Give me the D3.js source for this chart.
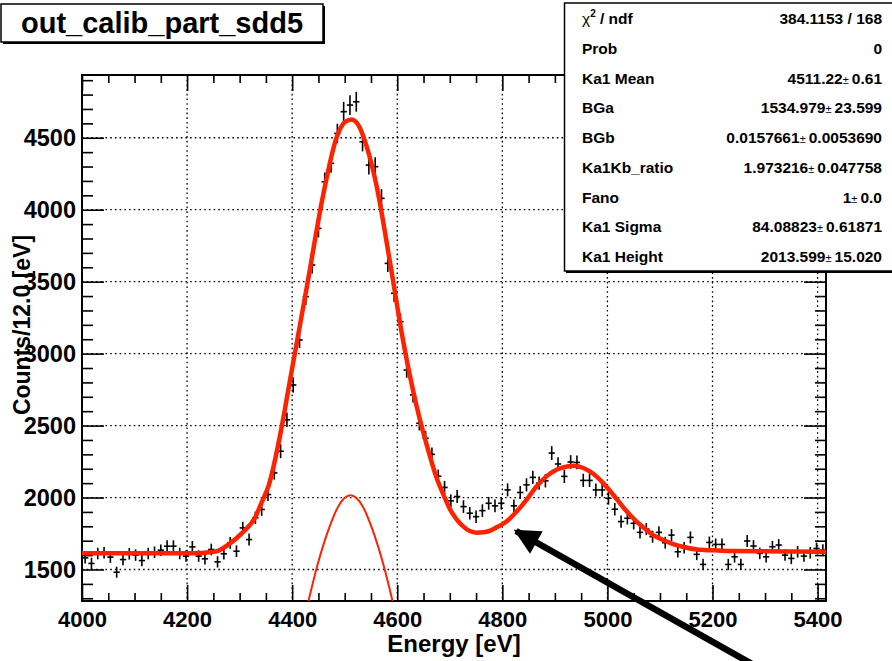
<!DOCTYPE html>
<html>
<head>
<meta charset="utf-8">
<script src="https://cdn.jsdelivr.net/npm/d3@7"></script>
<style>
  body { margin: 0; background: #fff; }
  text { font-family: "Liberation Sans", Arial, Helvetica, sans-serif; font-weight: bold; }
</style>
</head>
<body>
<div id="chart"></div>
<script>
// Histogram: 12 eV bins starting at 4000 eV
var binStart = 4000;
var binWidth = 12;
var counts = [
  1581, 1542, 1611, 1616, 1586, 1481, 1569, 1609, 1600, 1562,
  1611, 1620, 1634, 1662, 1662, 1611, 1593, 1657, 1593, 1574,
  1639, 1553, 1609, 1685, 1627, 1789, 1708, 1859, 1917, 2021,
  2171, 2322, 2540, 2782, 3095, 3396, 3616, 3870, 4194, 4322,
  4530, 4681, 4727, 4750, 4472, 4310, 4299, 4079, 3627, 3419,
  3222, 2886, 2713, 2516, 2412, 2300, 2148, 2070, 1977, 2007,
  1937, 1891, 1867, 1909, 1960, 1942, 1960, 2053, 1942, 2035,
  2088, 2140, 2100, 2116, 2309, 2233, 2147, 2247, 2244, 2119,
  2119, 2053, 2053, 1995, 1919, 1833, 1856, 1821, 1758, 1781,
  1728, 1758, 1686, 1739, 1623, 1651, 1723, 1605, 1535, 1688,
  1674, 1674, 1535, 1588, 1535, 1698, 1663, 1612, 1588, 1658,
  1670, 1600, 1577, 1623, 1593, 1616, 1646, 1635
];

// Total fit curve (energy, counts)
var fitEnergy = [4000, 4129, 4204, 4254, 4279, 4305, 4330, 4343, 4355, 4379,
  4396, 4428, 4459, 4485, 4501, 4513, 4526, 4542, 4561, 4586,
  4612, 4637, 4662, 4675, 4688, 4700, 4713, 4726, 4738, 4751,
  4764, 4777, 4789, 4808, 4827, 4846, 4865, 4884, 4903, 4923,
  4935, 4954, 4973, 4992, 5011, 5030, 5049, 5068, 5087, 5106,
  5125, 5144, 5170, 5202, 5233, 5297, 5416];
var fitCounts = [1612, 1612, 1612, 1625, 1674, 1754, 1865, 1975, 2080, 2470,
  2817, 3465, 4102, 4507, 4611, 4627, 4588, 4437, 4160, 3639,
  3072, 2632, 2290, 2135, 2019, 1921, 1849, 1798, 1767, 1756,
  1758, 1770, 1793, 1833, 1902, 1984, 2077, 2147, 2193, 2216,
  2221, 2205, 2165, 2100, 2019, 1933, 1856, 1793, 1739, 1705,
  1677, 1658, 1639, 1633, 1628, 1626, 1623];

// Ka1 component (thin line)
var ka1Energy = [4431, 4450, 4469, 4488, 4511, 4534, 4553, 4572, 4591];
var ka1Counts = [1281, 1555, 1775, 1940, 2015, 1940, 1775, 1555, 1281];

// Axis ticks
var xMajor = [4000, 4200, 4400, 4600, 4800, 5000, 5200, 5400];
var yMajor = [1500, 2000, 2500, 3000, 3500, 4000, 4500];

// Stats box
var statNames = ["χ2 / ndf", "Prob", "Ka1 Mean", "BGa", "BGb", "Ka1Kb_ratio", "Fano", "Ka1 Sigma", "Ka1 Height"];
var statValues = ["384.1153 / 168", "0", "4511.22", "1534.979", "0.0157661", "1.973216", "1", "84.08823", "2013.599"];
var statErrors = [null, null, "0.61", "23.599", "0.0053690", "0.047758", "0.0", "0.61871", "15.020"];

var svgWidth = 892;
var svgHeight = 661;

var frame = { left: 82, right: 826, top: 75, bottom: 601 };

var svg = d3.select("#chart")
  .append("svg")
  .attr("width", svgWidth)
  .attr("height", svgHeight);

svg.append("rect")
  .attr("width", svgWidth)
  .attr("height", svgHeight)
  .attr("fill", "white");

var xScale = d3.scaleLinear()
  .domain([4000, 5416])
  .range([frame.left, frame.right]);

var yScale = d3.scaleLinear()
  .domain([1281, 4936])
  .range([frame.bottom, frame.top]);

svg.append("clipPath")
  .attr("id", "plotClip")
  .append("rect")
  .attr("x", frame.left)
  .attr("y", frame.top)
  .attr("width", frame.right - frame.left)
  .attr("height", frame.bottom - frame.top);

// Dotted grid
var grid = svg.append("g");
grid.selectAll(".gx")
  .data(xMajor.filter(d => d > 4000))
  .enter()
  .append("line")
  .attr("x1", d => xScale(d))
  .attr("x2", d => xScale(d))
  .attr("y1", frame.top)
  .attr("y2", frame.bottom)
  .attr("stroke", "black")
  .attr("stroke-width", 1.3)
  .attr("stroke-dasharray", "1.6,3.1");

grid.selectAll(".gy")
  .data(yMajor)
  .enter()
  .append("line")
  .attr("x1", frame.left)
  .attr("x2", frame.right)
  .attr("y1", d => yScale(d))
  .attr("y2", d => yScale(d))
  .attr("stroke", "black")
  .attr("stroke-width", 1.3)
  .attr("stroke-dasharray", "1.6,3.1");

// Axes: major + minor ticks on all four sides
function addAxis(axisFn, scale, values, size, withLabels, transform) {
  var axis = axisFn(scale)
    .tickValues(values)
    .tickSizeInner(-size)
    .tickSizeOuter(0)
    .tickFormat(withLabels ? d3.format("d") : "");
  var g = svg.append("g")
    .attr("transform", transform)
    .call(axis);
  g.select(".domain").remove();
  g.selectAll(".tick line").attr("stroke", "black").attr("stroke-width", 1.6);
  return g;
}

var xMinor = d3.range(4050, 5416, 50).filter(d => d % 200 !== 0);
var yMinor = d3.range(1300, 4936, 100).filter(d => d % 500 !== 0);

var bottomAxis = addAxis(d3.axisBottom, xScale, xMajor, 16, true, `translate(0, ${frame.bottom})`);
bottomAxis.call(axis => axis.selectAll("text")
  .attr("font-size", 22)
  .attr("fill", "black")
  .attr("y", 10));
addAxis(d3.axisBottom, xScale, xMinor, 8, false, `translate(0, ${frame.bottom})`);
addAxis(d3.axisTop, xScale, xMajor, 16, false, `translate(0, ${frame.top})`);
addAxis(d3.axisTop, xScale, xMinor, 8, false, `translate(0, ${frame.top})`);

var leftAxis = addAxis(d3.axisLeft, yScale, yMajor, 22, true, `translate(${frame.left}, 0)`);
leftAxis.call(axis => axis.selectAll("text")
  .attr("font-size", 23.5)
  .attr("fill", "black")
  .attr("x", -6));
addAxis(d3.axisLeft, yScale, yMinor, 11, false, `translate(${frame.left}, 0)`);
addAxis(d3.axisRight, yScale, yMajor, 22, false, `translate(${frame.right}, 0)`);
addAxis(d3.axisRight, yScale, yMinor, 11, false, `translate(${frame.right}, 0)`);

// Frame
svg.append("rect")
  .attr("x", frame.left)
  .attr("y", frame.top)
  .attr("width", frame.right - frame.left)
  .attr("height", frame.bottom - frame.top)
  .attr("fill", "none")
  .attr("stroke", "black")
  .attr("stroke-width", 2);

var plotArea = svg.append("g").attr("clip-path", "url(#plotClip)");

// Data points with error bars
var points = counts.map(function(c, i) {
  return { e: binStart + binWidth * (i + 0.5), c: c };
});

var pts = plotArea.append("g")
  .attr("stroke", "black")
  .attr("stroke-width", 1.6);

pts.selectAll(".vbar")
  .data(points)
  .enter()
  .append("line")
  .attr("x1", d => xScale(d.e))
  .attr("x2", d => xScale(d.e))
  .attr("y1", d => yScale(d.c - Math.sqrt(d.c)))
  .attr("y2", d => yScale(d.c + Math.sqrt(d.c)));

pts.selectAll(".hbar")
  .data(points)
  .enter()
  .append("line")
  .attr("x1", d => xScale(d.e - binWidth / 2))
  .attr("x2", d => xScale(d.e + binWidth / 2))
  .attr("y1", d => yScale(d.c))
  .attr("y2", d => yScale(d.c));

// Fit curves
var fitLine = d3.line()
  .x(d => xScale(d[0]))
  .y(d => yScale(d[1]))
  .curve(d3.curveMonotoneX);

plotArea.append("path")
  .datum(ka1Energy.map((e, i) => [e, ka1Counts[i]]))
  .attr("d", fitLine)
  .attr("fill", "none")
  .attr("stroke", "#ff2200")
  .attr("stroke-width", 2);

plotArea.append("path")
  .datum(fitEnergy.map((e, i) => [e, fitCounts[i]]))
  .attr("d", fitLine)
  .attr("fill", "none")
  .attr("stroke", "#ff2200")
  .attr("stroke-width", 4.5);

// Axis titles
svg.append("text")
  .attr("x", (frame.left + frame.right) / 2)
  .attr("y", 652)
  .attr("text-anchor", "middle")
  .attr("font-size", 24)
  .text("Energy [eV]");

svg.append("text")
  .attr("transform", "translate(30, 325) rotate(-90)")
  .attr("text-anchor", "middle")
  .attr("font-size", 23)
  .text("Counts/12.0 [eV]");

// Arrow annotation
svg.append("defs")
  .append("marker")
  .attr("id", "arrowHead")
  .attr("viewBox", "0 0 10 10")
  .attr("refX", 9)
  .attr("refY", 5)
  .attr("markerUnits", "userSpaceOnUse")
  .attr("markerWidth", 32)
  .attr("markerHeight", 26)
  .attr("orient", "auto")
  .append("path")
  .attr("d", "M0,0 L10,5 L0,10 Z")
  .attr("fill", "black");

svg.append("line")
  .attr("x1", 752)
  .attr("y1", 664)
  .attr("x2", 516)
  .attr("y2", 531)
  .attr("stroke", "black")
  .attr("stroke-width", 6.5)
  .attr("marker-end", "url(#arrowHead)");

// Title box
svg.append("rect")
  .attr("x", 3).attr("y", 6)
  .attr("width", 322).attr("height", 38)
  .attr("fill", "black");
svg.append("rect")
  .attr("x", 1).attr("y", 4)
  .attr("width", 322).attr("height", 38)
  .attr("fill", "white")
  .attr("stroke", "black")
  .attr("stroke-width", 1.5);
svg.append("text")
  .attr("x", 162)
  .attr("y", 33)
  .attr("text-anchor", "middle")
  .attr("font-size", 29)
  .text("out_calib_part_sdd5");

// Stats box
svg.append("rect")
  .attr("x", 566).attr("y", 5)
  .attr("width", 340).attr("height", 268)
  .attr("fill", "black");
svg.append("rect")
  .attr("x", 564.5).attr("y", 3)
  .attr("width", 340).attr("height", 268)
  .attr("fill", "white")
  .attr("stroke", "black")
  .attr("stroke-width", 1.5);

var rowY = d3.scaleLinear().domain([0, 8]).range([24, 262]);

var statRows = svg.append("g");
statNames.forEach(function(name, i) {
  var label = statRows.append("text")
    .attr("x", 582)
    .attr("y", rowY(i))
    .attr("font-size", 15.5);
  if (i === 0) {
    label.append("tspan").attr("font-weight", "normal").text("χ");
    label.append("tspan").attr("font-size", 10).attr("dy", -7).text("2");
    label.append("tspan").attr("dy", 7).text(" / ndf");
  } else {
    label.text(name);
  }

  var val = statRows.append("text")
    .attr("x", 882)
    .attr("y", rowY(i))
    .attr("text-anchor", "end")
    .attr("font-size", 15.5);
  val.append("tspan").text(statValues[i]);
  if (statErrors[i] !== null) {
    val.append("tspan").attr("font-size", 11).attr("font-weight", "normal").text("± ");
    val.append("tspan").text(statErrors[i]);
  }
});
</script>
</body>
</html>
